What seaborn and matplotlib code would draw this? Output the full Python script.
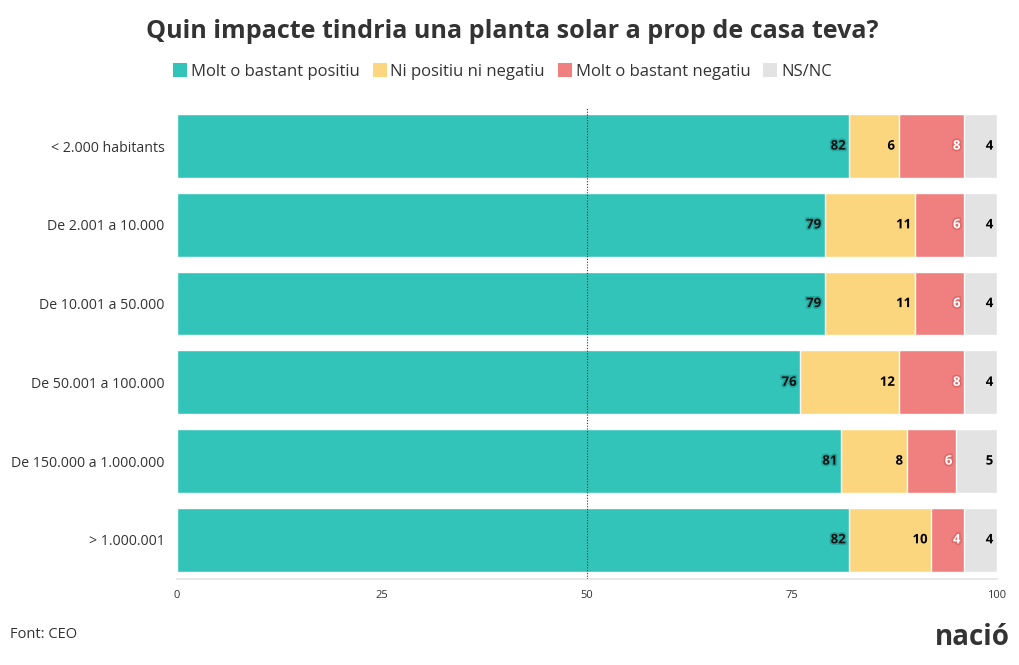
import pandas as pd
import numpy as np
import matplotlib
matplotlib.use("Agg")
import matplotlib.pyplot as plt
import matplotlib.patheffects as pe
from matplotlib.lines import Line2D
import seaborn as sns

# data
categories = ["< 2.000 habitants", "De 2.001 a 10.000", "De 10.001 a 50.000",
              "De 50.001 a 100.000", "De 150.000 a 1.000.000", "> 1.000.001"]
series = ["Molt o bastant positiu", "Ni positiu ni negatiu", "Molt o bastant negatiu", "NS/NC"]
positiu = [82, 79, 79, 76, 81, 82]
neutre = [6, 11, 11, 12, 8, 10]
negatiu = [8, 6, 6, 8, 6, 4]
nsnc = [4, 4, 4, 4, 5, 4]
colors = ["#33c4b9", "#fbd67e", "#f08080", "#e3e3e3"]

df = pd.DataFrame({"cat": categories, series[0]: positiu, series[1]: neutre,
                   series[2]: negatiu, series[3]: nsnc})

sns.set_theme(style="white")
plt.rcParams['font.family'] = ['Open Sans', 'DejaVu Sans']

fig = plt.figure(figsize=(10.2, 6.65), dpi=100)
ax = fig.add_axes([0.1735, 0.129, 0.804, 0.7105])

# stacked bars: draw cumulative sums, largest first
cum = df[series].cumsum(axis=1)
for i in range(len(series) - 1, -1, -1):
    sns.barplot(x=cum[series[i]], y=df["cat"], orient="h", color=colors[i],
                width=0.81, ax=ax, saturation=1, edgecolor="white", linewidth=1)

# value labels
halo = ["#22a89e", "#fbd67e", "#e06a6a", "#e3e3e3"]
txtcol = ["#111111", "black", "white", "black"]
for r in range(len(categories)):
    for i, s in enumerate(series):
        end = cum.loc[r, s]
        ax.text(end - 0.45, r, str(df.loc[r, s]), ha="right", va="center",
                fontsize=9.5, fontweight="bold", color=txtcol[i],
                path_effects=[pe.withStroke(linewidth=2.5, foreground=halo[i])])

ax.axvline(50, color="#333333", linestyle=(0, (1, 1.5)), linewidth=0.8, zorder=5)

ax.set_xlim(0, 100)
ax.set_ylim(5.5, -0.5)
ax.set_xticks([0, 25, 50, 75, 100])
ax.set_xlabel("")
ax.set_ylabel("")
ax.tick_params(axis="x", labelsize=8, colors="#333333", length=4, color="#cccccc")
ax.tick_params(axis="y", labelsize=10.2, colors="#333333", length=0, pad=9)
for sp in ["top", "right", "left"]:
    ax.spines[sp].set_visible(False)
ax.spines["bottom"].set_color("#e6e6e6")

fig.suptitle("Quin impacte tindria una planta solar a prop de casa teva?",
             x=0.502, y=0.972, fontsize=18.1, fontweight="bold", color="#333333")

handles = [Line2D([0], [0], marker="s", color="w", markerfacecolor=c, markersize=10,
                  markeredgewidth=0) for c in colors]
fig.legend(handles, series, loc="center", bbox_to_anchor=(0.492, 0.892), ncol=4,
           frameon=False, fontsize=12, handletextpad=0.15, columnspacing=0.7,
           handlelength=1.0, labelcolor="#333333")

fig.text(0.01, 0.04, "Font: CEO", fontsize=10.5, color="#333333")
fig.text(0.99, 0.03, "nació", fontsize=20, fontweight="bold", color="#333333", ha="right")

fig.savefig("out.png", dpi=100)
